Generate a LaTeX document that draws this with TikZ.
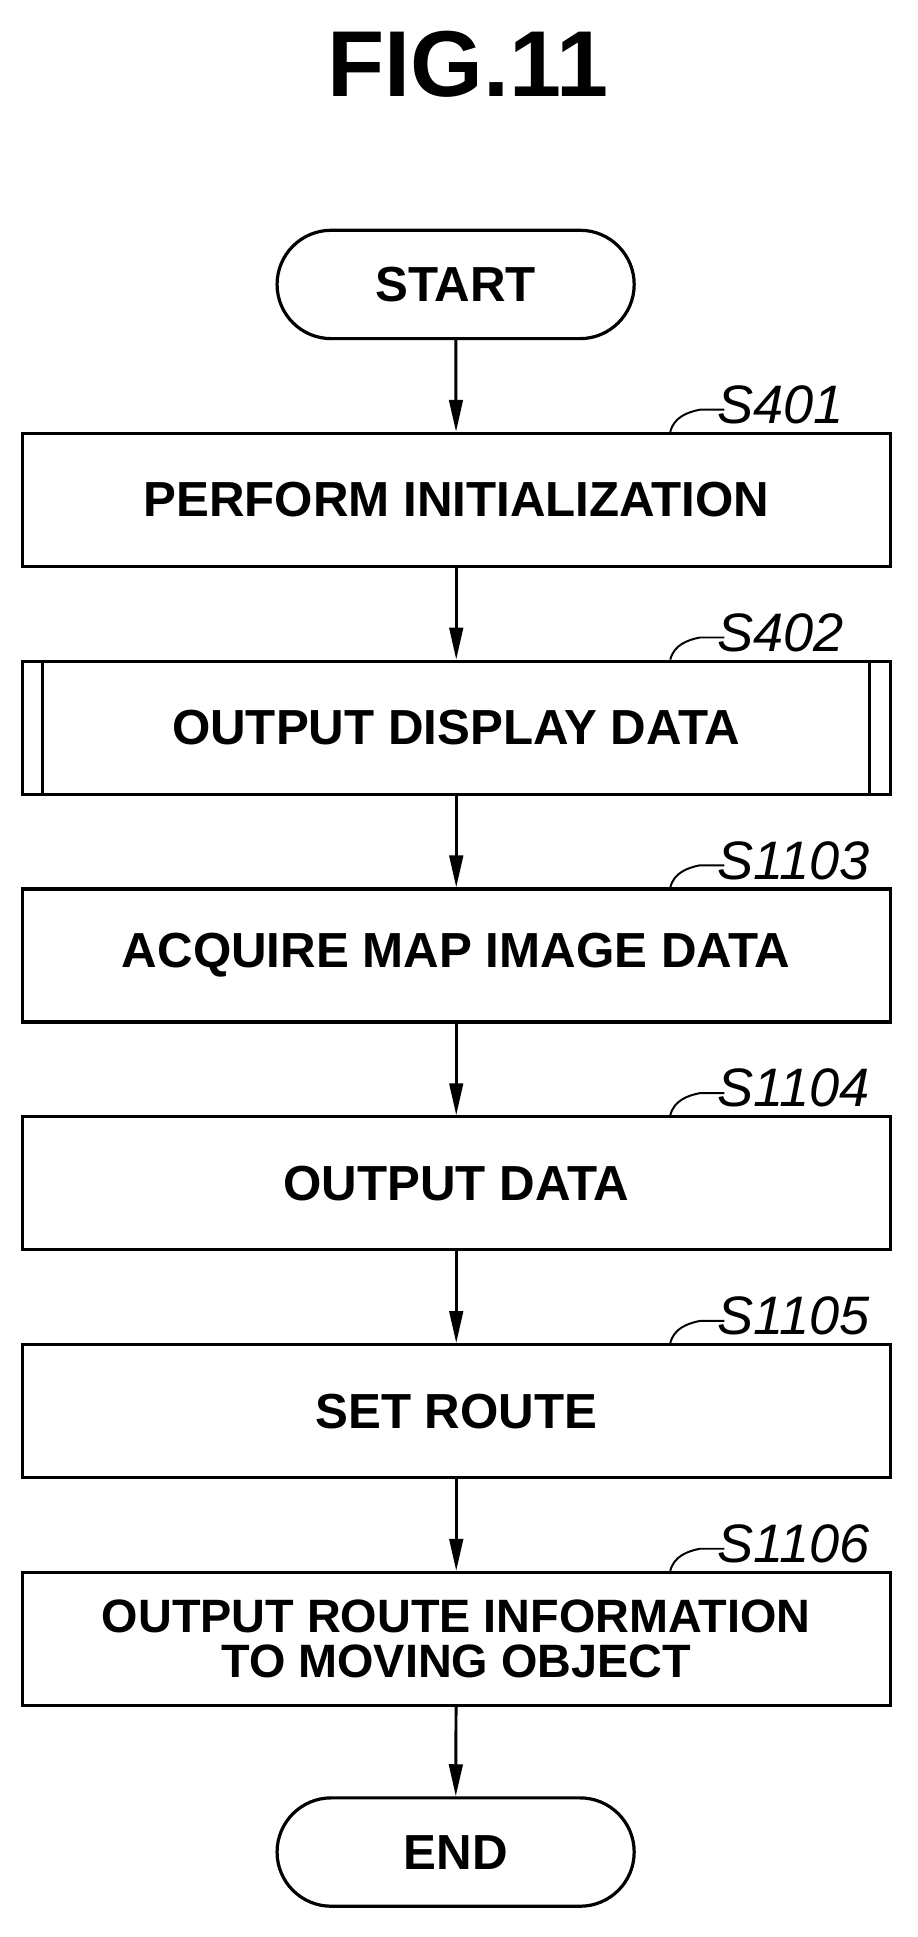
\documentclass[tikz,border=0pt]{standalone}
\usepackage{fontspec}
\setmainfont{Liberation Sans}
\usetikzlibrary{arrows.meta}
\tikzset{
  proc/.style={draw, line width=2.6pt, minimum width=705pt, minimum height=108pt,
    inner sep=0pt, align=center, font=\fontsize{40}{42}\selectfont\bfseries},
  term/.style={draw, line width=2.6pt, rounded corners=44pt, minimum width=290pt,
    minimum height=88pt, inner sep=0pt, font=\fontsize{40}{42}\selectfont\bfseries},
  flow/.style={line width=2.4pt, -{Triangle[length=26pt,width=11pt]}},
  tag/.style={font=\fontsize{44}{46}\selectfont\itshape, anchor=west, inner sep=0pt},
  lead/.style={line width=1.6pt}
}
\newcommand{\steplabel}[2]{%
  \draw[lead] ([xshift=-180pt]#1.north east) .. controls +(3pt,12pt) and +(-10pt,-2pt) .. ++(24pt,18pt)
    coordinate (#1l) -- ++(20pt,0pt);
  \node[tag] at ([xshift=14pt,yshift=4pt]#1l) {#2};}
\begin{document}
\begin{tikzpicture}[x=1pt,y=-1pt]
  \useasboundingbox (0,0) rectangle (745,1573);
  \node[font=\fontsize{76}{80}\selectfont\bfseries] (title) at (380,52) {FIG.11};
  % terminals and steps
  \node[term] (start) at (370,231) {START};
  \node[proc] (s401) at (370.5,406) {PERFORM INITIALIZATION};
  \node[proc] (s402) at (370.5,591) {OUTPUT DISPLAY DATA};
  \draw[line width=2.6pt] ([xshift=18pt]s402.north west) -- ([xshift=18pt]s402.south west)
    ([xshift=-18pt]s402.north east) -- ([xshift=-18pt]s402.south east);
  \node[proc] (s1103) at (370.5,776) {ACQUIRE MAP IMAGE DATA};
  \node[proc] (s1104) at (370.5,961) {OUTPUT DATA};
  \node[proc] (s1105) at (370.5,1146) {SET ROUTE};
  \node[proc, font=\fontsize{38}{36}\selectfont\bfseries] (s1106) at (370.5,1331)
    {OUTPUT ROUTE INFORMATION\\TO MOVING OBJECT};
  \node[term] (end) at (370,1504) {END};
  % step numbers
  \steplabel{s401}{S401}
  \steplabel{s402}{S402}
  \steplabel{s1103}{S1103}
  \steplabel{s1104}{S1104}
  \steplabel{s1105}{S1105}
  \steplabel{s1106}{S1106}
  % connectors
  \draw[flow] (start) -- (s401);
  \draw[flow] (s401) -- (s402);
  \draw[flow] (s402) -- (s1103);
  \draw[flow] (s1103) -- (s1104);
  \draw[flow] (s1104) -- (s1105);
  \draw[flow] (s1105) -- (s1106);
  \draw[flow] (s1106) -- (end);
\end{tikzpicture}
\end{document}
